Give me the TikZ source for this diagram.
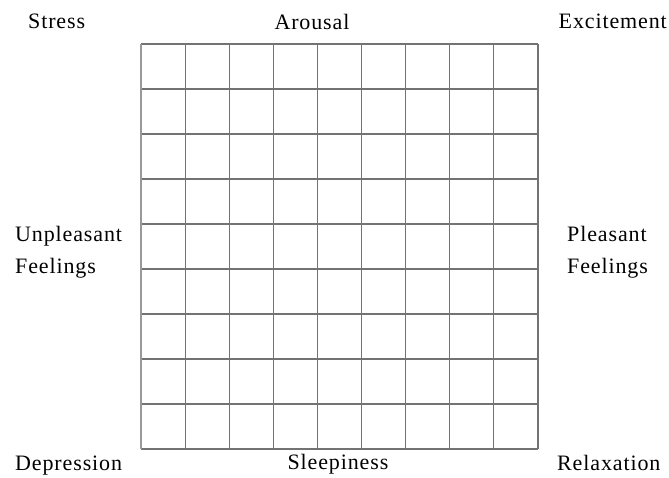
\documentclass[tikz,border=0pt]{standalone}
\usepackage{fontspec}
\setmainfont{Liberation Serif}[LetterSpace=4]
\usetikzlibrary{positioning}

\begin{document}
\begin{tikzpicture}[x=1pt,y=-1pt,inner sep=0pt,font=\fontsize{22}{26}\selectfont]
\useasboundingbox (0,0) rectangle (669,477);
% the 9 x 9 grid
\coordinate (nw) at (141,44);
\coordinate (se) at (538,449);
\foreach \i in {0,...,9} {
  \draw[black!55,line width=1.2pt] (141+44.11*\i,44)--(141+44.11*\i,449);
  \draw[black!55,line width=1.2pt] (141,44+45*\i)--(538,44+45*\i);
}
\draw[black!40,line width=2pt] (nw)--(nw|-se);
% corner and side labels
\node[anchor=base west] (stress) at (28,28) {Stress};
\node[anchor=base] (arousal) at (312,29) {Arousal};
\node[anchor=base east] (excite) at (667,28) {Excitement};
\node[anchor=base west] (unpl) at (15,241) {Unpleasant};
\node[anchor=base west] (unplf) at (15,273) {Feelings};
\node[anchor=base west] (pleas) at (567,241) {Pleasant};
\node[anchor=base west] (pleasf) at (567,273) {Feelings};
\node[anchor=base west] (depr) at (15,470) {Depression};
\node[anchor=base] (sleep) at (338,469) {Sleepiness};
\node[anchor=base west] (relax) at (557,470) {Relaxation};
\end{tikzpicture}
\end{document}
